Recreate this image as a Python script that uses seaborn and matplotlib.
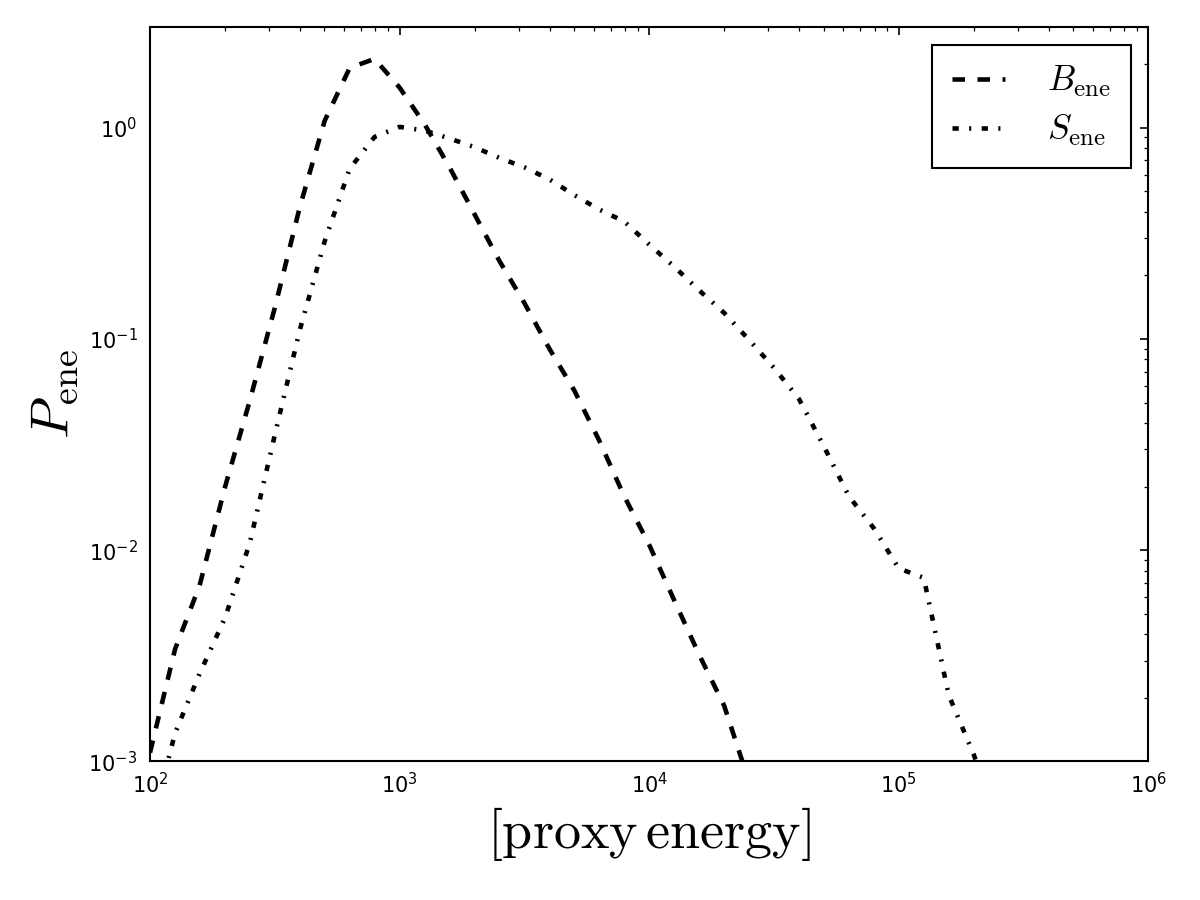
import matplotlib
matplotlib.use('Agg')
import matplotlib.pyplot as plt
import numpy as np
import pandas as pd
import seaborn as sns

# bin centres of proxy energy (log spaced, 10 per decade)
energy = [100, 126, 158, 200, 251, 316, 398, 501, 631, 794,
          1000, 1259, 1585, 1995, 2512, 3162, 3981, 5012, 6310, 7943,
          10000, 12589, 15849, 19953, 25119, 31623, 39811, 50119, 63096, 79433,
          100000, 125893, 158489, 199526, 251189]

# B_ene distribution (first 25 bins)
b_ene = [1.1e-3, 3.4e-3, 6.8e-3, 0.020, 0.051, 0.14, 0.42, 1.08, 1.92, 2.12,
         1.55, 1.04, 0.65, 0.39, 0.234, 0.148, 0.090, 0.057, 0.033, 0.018,
         0.0106, 5.8e-3, 3.2e-3, 1.84e-3, 8.0e-4]

# S_ene distribution
s_ene = [4.7e-4, 1.36e-3, 2.6e-3, 4.8e-3, 0.0108, 0.035, 0.11, 0.29, 0.64, 0.905,
         1.01, 0.97, 0.89, 0.81, 0.72, 0.65, 0.57, 0.48, 0.41, 0.36,
         0.28, 0.22, 0.17, 0.133, 0.099, 0.073, 0.052, 0.031, 0.018, 0.0127,
         8.2e-3, 7.4e-3, 2.06e-3, 1.08e-3, 5.0e-4]

sns.set_style('white')
plt.rcParams['mathtext.fontset'] = 'cm'
plt.rcParams['font.family'] = ['DejaVu Sans']
plt.rcParams['text.color'] = 'k'
plt.rcParams['axes.labelcolor'] = 'k'
plt.rcParams['xtick.color'] = 'k'
plt.rcParams['ytick.color'] = 'k'
plt.rcParams['xtick.direction'] = 'in'
plt.rcParams['ytick.direction'] = 'in'
plt.rcParams['xtick.top'] = True
plt.rcParams['ytick.right'] = True
plt.rcParams['lines.scale_dashes'] = False

fig = plt.figure(figsize=(8, 6), dpi=150)
ax = fig.add_subplot(111)
fig.subplots_adjust(left=0.125, right=0.957, bottom=0.154, top=0.97)

b_df = pd.DataFrame({'energy': energy[:len(b_ene)], 'p': b_ene})
s_df = pd.DataFrame({'energy': energy, 'p': s_ene})

sns.lineplot(data=b_df, x='energy', y='p', ax=ax, color='k', lw=2.2,
             dashes=False, label=r'$B_{\rm ene}$')
sns.lineplot(data=s_df, x='energy', y='p', ax=ax, color='k', lw=2.2,
             dashes=False, label=r'$S_{\rm ene}$')
ax.lines[0].set_dashes([6, 6])
ax.lines[1].set_dashes([3, 5, 1, 5])

ax.set_xscale('log')
ax.set_yscale('log')
ax.set_xlim(1e2, 1e6)
ax.set_ylim(1e-3, 3)

for s in ax.spines.values():
    s.set_color('k')
    s.set_linewidth(1.0)
ax.tick_params(which='major', length=4, width=0.8, labelsize=10, pad=6)
ax.tick_params(which='minor', length=2, width=0.6)
ax.tick_params(axis='x', which='major', pad=5)

ax.set_xlabel(r'$[\mathrm{proxy\,energy}]$', fontsize=26)
ax.set_ylabel(r'$P_{\rm ene}$', fontsize=26)

leg = ax.legend(loc='upper right', fontsize=17, fancybox=False, framealpha=1,
                edgecolor='k', handlelength=1.5, handletextpad=1.2,
                labelspacing=0.4, borderpad=0.55)
leg.get_frame().set_linewidth(1.0)

fig.savefig('out.png', dpi=150)
